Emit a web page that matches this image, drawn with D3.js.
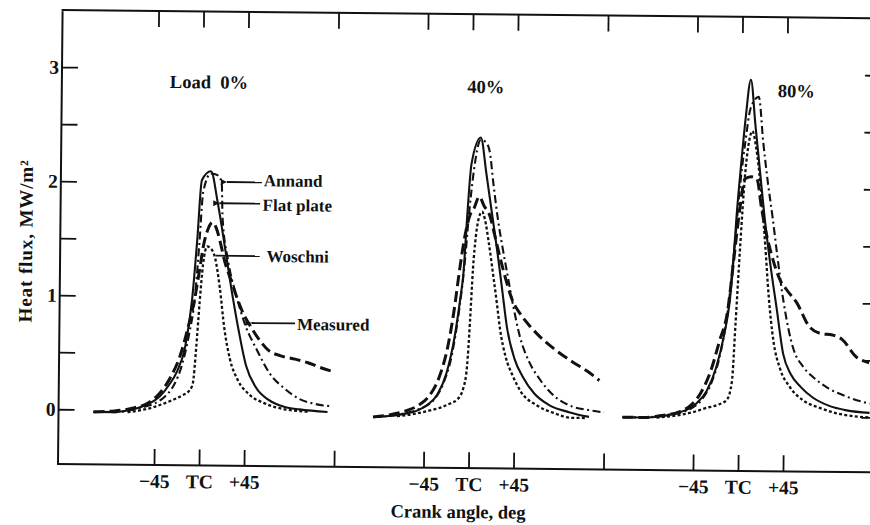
<!DOCTYPE html>
<html><head><meta charset="utf-8">
<script src="https://cdn.jsdelivr.net/npm/d3@7"></script>
<style>
html,body{margin:0;padding:0;background:#fff;}
svg{display:block;}
</style></head><body>
<svg id="chart" width="870" height="525"></svg>
<script>
// ---------- data ----------
const panels = ["0%", "40%", "80%"];
const panelLabels = ["Load\u00a0\u00a00%", "40%", "80%"];
const seriesNames = ["Flat plate", "Annand", "Woschni", "Measured"];
const xTickValues = [-45, 0, 45];
const xTickLabels = ["\u221245", "TC", "+45"];
const yTickValues = [0, 0.5, 1, 1.5, 2, 2.5, 3];
const yTickLabels = ["0", "", "1", "", "2", "", "3"];

// [crank angle deg, heat flux MW/m2]
const flatPlate0 = [[-106,-0.02],[-85,-0.02],[-70,0.0],[-58,0.03],[-50,0.06],[-40,0.12],[-31,0.22],[-23,0.34],[-15,0.56],[-8.6,0.97],[-4,1.5],[0,2.02],[9,2.1],[16,1.83],[24,1.42],[32,1.0],[38,0.72],[46,0.4],[56,0.21],[69,0.1],[85,0.04],[100,0.02],[128,0.0]];
const annand0 = [[-106,-0.02],[-85,-0.02],[-68,0.0],[-55,0.03],[-45,0.06],[-35,0.12],[-26,0.22],[-18,0.4],[-11,0.68],[-6,0.97],[-2,1.45],[1.5,1.92],[9,2.08],[17,2.06],[20,1.98],[21,1.7],[27,1.32],[36,1.0],[45,0.75],[56,0.55],[70,0.33],[85,0.2],[100,0.11],[115,0.07],[132,0.05]];
const woschni0 = [[-72,-0.02],[-58,0.0],[-45,0.03],[-30,0.08],[-18,0.13],[-10,0.18],[-7,0.24],[-4,0.55],[-1,0.95],[2,1.28],[6,1.44],[10,1.42],[14,1.34],[19,1.08],[24,0.72],[30,0.45],[38,0.27],[49,0.15],[65,0.07],[85,0.02],[110,0.0]];
const measured0 = [[-106,-0.02],[-85,-0.01],[-65,0.02],[-52,0.06],[-40,0.15],[-30,0.28],[-20,0.48],[-12,0.74],[-6,0.98],[-2,1.2],[3,1.48],[7,1.6],[11,1.65],[15,1.6],[19,1.48],[24,1.3],[30,1.15],[36,1.0],[43,0.85],[49,0.76],[58,0.64],[69,0.53],[80,0.49],[95,0.46],[108,0.43],[120,0.39],[131,0.36]];

const flatPlate40 = [[-96,-0.04],[-80,-0.03],[-65,-0.01],[-52,0.02],[-42,0.07],[-32,0.16],[-23,0.35],[-15,0.68],[-10,1.0],[-7,1.23],[-4,1.7],[0,2.19],[9,2.42],[15,2.1],[21,1.75],[27,1.4],[32,1.08],[37,0.76],[45,0.48],[53,0.33],[65,0.18],[80,0.08],[100,0.02],[120,-0.02]];
const annand40 = [[-96,-0.04],[-80,-0.03],[-62,0.0],[-48,0.04],[-36,0.11],[-26,0.26],[-18,0.5],[-11,0.9],[-6,1.3],[-2,1.75],[2,2.1],[9,2.4],[14,2.38],[18,2.3],[22,2.02],[27,1.7],[32,1.45],[37,1.22],[43,0.95],[50,0.68],[60,0.45],[70,0.31],[85,0.16],[103,0.07],[120,0.04],[135,0.02]];
const woschni40 = [[-72,-0.03],[-55,-0.01],[-40,0.02],[-28,0.05],[-18,0.09],[-12,0.12],[-6,0.22],[-2.5,0.41],[0,0.8],[2.5,1.27],[5,1.55],[8,1.72],[11,1.77],[14,1.7],[18,1.5],[23,1.2],[27,0.95],[30,0.75],[36,0.5],[43,0.34],[52,0.19],[67,0.08],[85,0.01],[103,-0.03],[118,-0.03]];
const measured40 = [[-96,-0.04],[-80,-0.02],[-62,0.02],[-50,0.07],[-40,0.15],[-30,0.32],[-22,0.58],[-16,0.9],[-11,1.25],[-6,1.55],[-1,1.74],[3,1.8],[8,1.9],[13,1.82],[19,1.73],[24,1.56],[30,1.35],[36,1.16],[42,1.0],[50,0.88],[60,0.77],[70,0.68],[85,0.57],[103,0.46],[118,0.38],[130,0.3]];

const flatPlate80 = [[-116,-0.02],[-95,-0.02],[-78,-0.01],[-63,0.02],[-52,0.05],[-42,0.11],[-32,0.22],[-23,0.42],[-15,0.72],[-10,1.0],[-7,1.32],[-4,1.75],[0,2.2],[4,2.6],[9,2.95],[14,2.55],[19,2.15],[24,1.75],[30,1.35],[37,0.95],[44,0.55],[52,0.37],[62,0.26],[74,0.17],[90,0.1],[108,0.06],[131,0.04]];
const annand80 = [[-116,-0.02],[-95,-0.02],[-76,0.0],[-60,0.02],[-48,0.06],[-37,0.14],[-27,0.3],[-18,0.58],[-11,0.98],[-6,1.45],[-1,2.0],[4,2.4],[9,2.7],[17,2.8],[22,2.4],[27,2.05],[32,1.75],[37,1.42],[44,1.0],[54,0.6],[64,0.44],[74,0.35],[90,0.25],[108,0.18],[131,0.12]];
const woschni80 = [[-82,-0.02],[-62,0.0],[-46,0.03],[-32,0.07],[-20,0.1],[-12,0.14],[-7,0.3],[-4,0.8],[0,1.5],[4,2.1],[8,2.42],[11,2.5],[15,2.35],[20,2.0],[25,1.5],[29,1.05],[34,0.67],[41,0.42],[51,0.26],[65,0.14],[81,0.08],[100,0.03],[130,0.0]];
const measured80 = [[-116,-0.02],[-95,-0.02],[-76,0.0],[-60,0.03],[-48,0.09],[-38,0.2],[-28,0.4],[-20,0.65],[-12,0.92],[-6,1.4],[-1,1.8],[4,2.08],[10,2.1],[16,2.08],[21,1.82],[26,1.6],[32,1.4],[40,1.2],[47,1.11],[57,1.0],[70,0.79],[82,0.73],[93,0.72],[103,0.68],[117,0.53],[130,0.48]];

const panelSeries = [
  [flatPlate0, annand0, woschni0, measured0],
  [flatPlate40, annand40, woschni40, measured40],
  [flatPlate80, annand80, woschni80, measured80]
];

// ---------- layout (not data) ----------
const plotLeft = 58, plotRight = 876, plotTop = 10, plotBottom = 464;
const firstTC = 199, panelStep = 269.5, degPx = 1.0;
const tilt = 0.58;
const seriesStyle = [
  {dash: null, width: 2.1},
  {dash: "8,3.5,2,3.5", width: 2.1},
  {dash: "3,2.3", width: 2.3},
  {dash: "11,5", width: 3}
];
// callouts placed in panel-1 data coordinates
const callouts = [
  {name: "Annand", tip: [24, 2.007], end: 60, text: [62, 1.972], arrow: true},
  {name: "Flat plate", tip: [16.6, 1.82], end: 58.4, text: [61, 1.757], arrow: true},
  {name: "Woschni", tip: [14.5, 1.36], end: 58.6, text: [65.4, 1.31], arrow: false},
  {name: "Measured", tip: [50, 0.773], end: 94.6, text: [96.6, 0.716], arrow: true}
];
const panelLabelPos = [[-33, 2.826], [-5, 2.81], [36, 2.8]];

const FONT = "'Liberation Serif','Times New Roman',serif";
const INK = "#111";

// ---------- scales ----------
const y = d3.scaleLinear().domain([-0.48, 3.5]).range([plotBottom, plotTop]);
const xs = panels.map((p, i) => {
  const c = firstTC + i * panelStep;
  return d3.scaleLinear().domain([-135, 135]).range([c - 135 * degPx, c + 135 * degPx]);
});

const svg = d3.select("#chart");
svg.append("rect").attr("width", 870).attr("height", 525).attr("fill", "#fff");
const defs = svg.append("defs");
defs.append("marker").attr("id", "arr").attr("viewBox", "0 0 10 10")
  .attr("refX", 0).attr("refY", 5).attr("markerWidth", 7).attr("markerHeight", 6)
  .attr("markerUnits", "userSpaceOnUse").attr("orient", "auto-start-reverse")
  .append("path").attr("d", "M0,5 L10,0 L10,10 Z").attr("fill", INK);

const g = svg.append("g").attr("transform", `rotate(${tilt},${plotLeft},${plotBottom})`);

function styleAxis(sel, size) {
  sel.select(".domain").remove();
  sel.selectAll(".tick line").attr("stroke", INK).attr("stroke-width", 1.8);
  sel.selectAll(".tick text").attr("fill", INK).attr("font-family", FONT)
    .attr("font-weight", "bold").attr("font-size", size);
}

// frame
g.append("path")
  .attr("d", `M${plotLeft},${plotTop}V${plotBottom}M${plotLeft - 1},${plotBottom}H${plotRight + 6}M${plotLeft - 1},${plotTop}H${plotRight + 6}M${plotRight},${plotTop}V${plotBottom}`)
  .attr("fill", "none").attr("stroke", INK).attr("stroke-width", 2);

// x axes per panel
xs.forEach((x, i) => {
  g.append("g").attr("transform", `translate(0,${plotBottom})`)
    .call(d3.axisBottom(x).tickValues(xTickValues).tickFormat((d, j) => xTickLabels[j])
      .tickSizeInner(-16).tickSizeOuter(0).tickPadding(9))
    .call(s => styleAxis(s, 19.5));
  g.append("g").attr("transform", `translate(0,${plotBottom})`)
    .call(d3.axisBottom(x).tickValues([135]).tickFormat("").tickSizeInner(-16).tickSizeOuter(0))
    .call(s => styleAxis(s, 19.5));
  g.append("g").attr("transform", `translate(0,${plotTop})`)
    .call(d3.axisTop(x).tickValues(xTickValues.concat([135])).tickFormat("").tickSizeInner(-16).tickSizeOuter(0))
    .call(s => styleAxis(s, 19.5));
});

// y axes
g.append("g").attr("transform", `translate(${plotLeft},0)`)
  .call(d3.axisLeft(y).tickValues(yTickValues).tickFormat((d, i) => yTickLabels[i])
    .tickSizeInner(-16).tickSizeOuter(0).tickPadding(3))
  .call(s => styleAxis(s, 19.5));
g.append("g").attr("transform", `translate(${plotRight},0)`)
  .call(d3.axisRight(y).tickValues(yTickValues).tickFormat("").tickSizeInner(-15).tickSizeOuter(0))
  .call(s => styleAxis(s, 19.5));

// curves
panelSeries.forEach((list, i) => {
  const line = d3.line().x(d => xs[i](d[0])).y(d => y(d[1])).curve(d3.curveMonotoneX);
  list.forEach((data, k) => {
    const st = seriesStyle[k];
    g.append("path").datum(data)
      .attr("class", "series " + seriesNames[k].replace(" ", "-"))
      .attr("d", line)
      .attr("fill", "none").attr("stroke", INK)
      .attr("stroke-width", st.width)
      .attr("stroke-linejoin", "round").attr("stroke-linecap", "butt")
      .attr("stroke-dasharray", st.dash);
  });
});

// panel labels
panelLabels.forEach((t, i) => {
  g.append("text").attr("x", xs[i](panelLabelPos[i][0])).attr("y", y(panelLabelPos[i][1]))
    .attr("font-family", FONT).attr("font-weight", "bold").attr("font-size", 18.5)
    .attr("fill", INK).text(t);
});

// callouts
callouts.forEach(c => {
  const x = xs[0];
  g.append("line")
    .attr("x1", x(c.tip[0]) + (c.arrow ? 1 : 0)).attr("y1", y(c.tip[1]))
    .attr("x2", x(c.end)).attr("y2", y(c.tip[1]))
    .attr("stroke", INK).attr("stroke-width", 1.8)
    .attr("marker-start", c.arrow ? "url(#arr)" : null);
  g.append("text").attr("x", x(c.text[0])).attr("y", y(c.text[1]))
    .attr("font-family", FONT).attr("font-weight", "bold").attr("font-size", 17)
    .attr("fill", INK).text(c.name);
});

// axis titles
g.append("text").attr("x", (xs[1](-135) + xs[1](135)) / 2 - 10).attr("y", 514)
  .attr("text-anchor", "middle").attr("font-family", FONT).attr("font-weight", "bold")
  .attr("font-size", 18.5).attr("fill", INK).text("Crank angle, deg");
g.append("text").attr("transform", `translate(30,${(y(3) + y(0)) / 2 + 3}) rotate(-90)`)
  .attr("text-anchor", "middle").attr("font-family", FONT).attr("font-weight", "bold")
  .attr("font-size", 19).attr("letter-spacing", 0.9).attr("fill", INK).text("Heat flux, MW/m\u00b2");
</script>
</body></html>
